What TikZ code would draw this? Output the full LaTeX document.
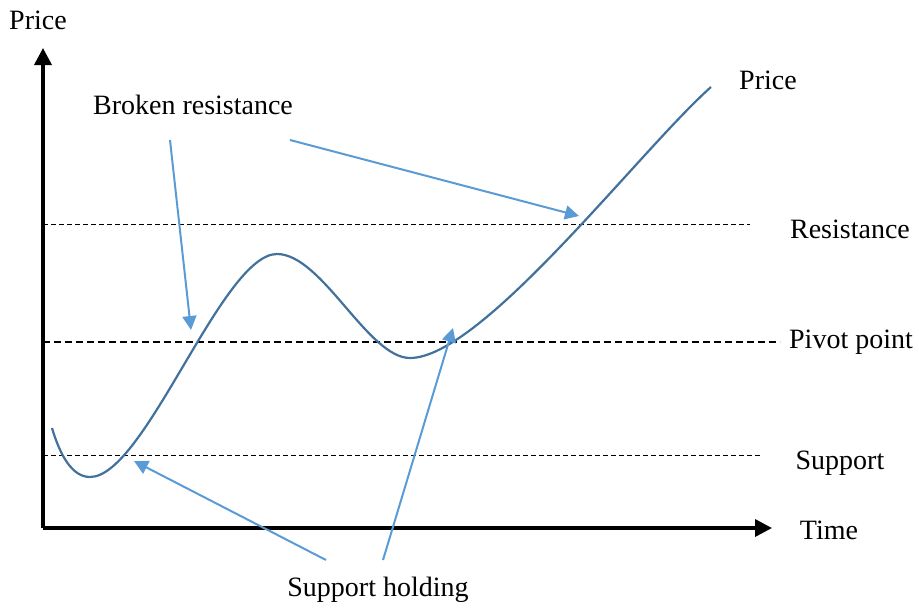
\documentclass[tikz,border=0pt]{standalone}
\usepackage{fontspec}
\setmainfont{Liberation Serif}
\usetikzlibrary{arrows.meta, positioning}
\definecolor{curveblue}{HTML}{41719C}
\definecolor{pointer}{HTML}{5B9BD5}
\tikzset{x=1pt, y=-1pt, % one unit is one pixel of the reference
axis/.style={ % Sets the look of both axes
line width=3.5pt, -{Triangle[length=17pt, width=17pt]}},
level/.style={ % Thin dashed price levels
dash pattern=on 5pt off 3pt, line width=0.6pt},
pivot/.style={ % The pivot level is drawn heavier
dash pattern=on 7pt off 4pt, line width=1.4pt},
pointer/.style={ % Sets the properties for each blue annotation arrow
draw=pointer, line width=2pt, -{Triangle[length=14pt, width=14pt]}},
label/.style={ % Plain text labels
font=\fontsize{28}{33}\selectfont, inner sep=0pt}}

\begin{document}
\begin{tikzpicture}
    \useasboundingbox (0,0) rectangle (919,611);

    \coordinate (o) at (43,528);
    \coordinate (ytip) at (43,48);
    \coordinate (xtip) at (772,528);
    \draw[axis] (o) -- (ytip);
    \draw[axis] (o) -- (xtip);

    \node[label] (pricey) at (38,20) {Price};
    \node[label] (time) at (829,530) {Time};

    % price levels
    \coordinate (res0) at (43,224);
    \coordinate (res1) at (750,224);
    \coordinate (piv0) at (43,342);
    \coordinate (piv1) at (780,342);
    \coordinate (sup0) at (43,455);
    \coordinate (sup1) at (760,455);
    \draw[level] (res0) -- (res1);
    \draw[pivot] (piv0) -- (piv1);
    \draw[level] (sup0) -- (sup1);

    \node[label] (resistance) at (850,229) {Resistance};
    \node[label] (pivotpt) at (851,342) {Pivot point};
    \node[label] (support) at (840,463) {Support};
    \node[label] (pricec) at (768,80) {Price};
    \node[label] (broken) at (193,105) {Broken resistance};
    \node[label] (holding) at (378,590) {Support holding};

    % the price curve
    \draw[curveblue, line width=2.2pt] (52,428)
        .. controls (60,455) and (72,477) .. (90,477)
        .. controls (145,477) and (222,254) .. (277,254)
        .. controls (322,254) and (368,358) .. (410,358)
        .. controls (482,358) and (640,150) .. (711,87);

    % annotation arrows
    \coordinate (b1) at (170,140);
    \coordinate (b2) at (290,140);
    \coordinate (h1) at (326,560);
    \coordinate (h2) at (383,560);
    \coordinate (t1) at (191,330);
    \coordinate (t2) at (579,216);
    \coordinate (t3) at (134,461);
    \coordinate (t4) at (453,328);
    \draw[pointer] (b1) -- (t1);
    \draw[pointer] (b2) -- (t2);
    \draw[pointer] (h1) -- (t3);
    \draw[pointer] (h2) -- (t4);
\end{tikzpicture}
\end{document}
